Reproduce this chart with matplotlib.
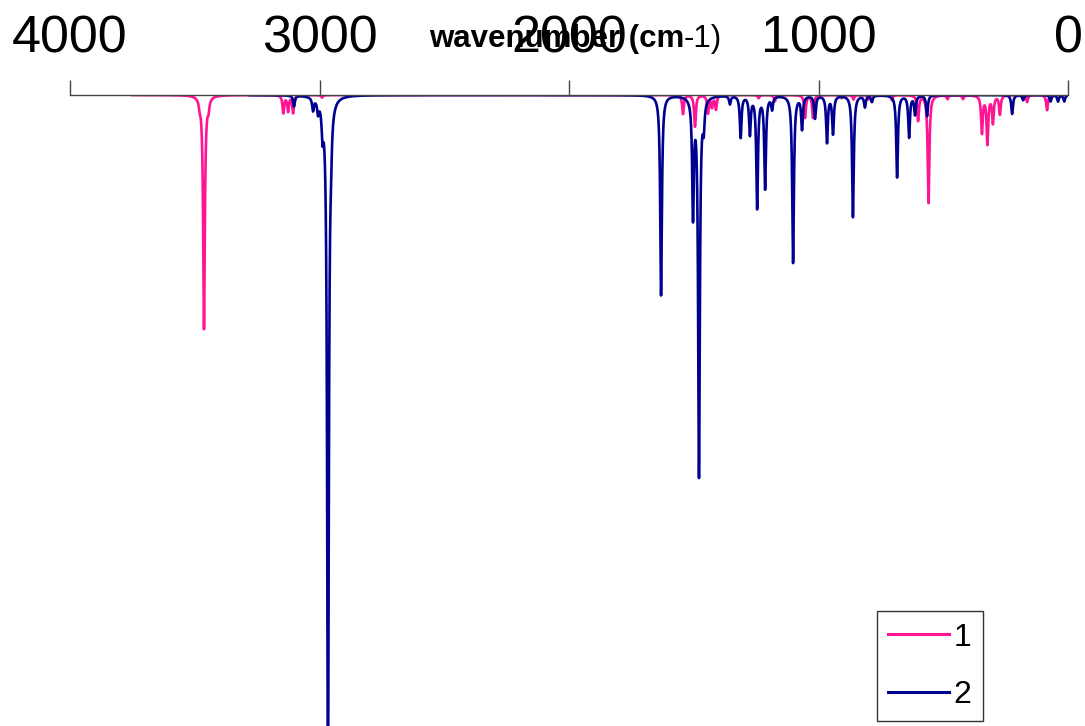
import numpy as np
import matplotlib.pyplot as plt

plt.rcParams['font.family'] = ['Liberation Sans', 'DejaVu Sans']

# peak lists: wavenumber (cm-1) and depth (fraction of plot height)
peaks_1_wn = [3480, 3463, 3445, 3145, 3126, 3106, 2990, 1543, 1495, 1443, 1427,
              1411, 1240, 1175, 1054, 1022, 907, 860, 800, 706, 601, 559, 483,
              421, 345, 323, 301, 273, 164, 84]
peaks_1_int = [0.01, 0.37, 0.015, 0.028, 0.025, 0.028, 0.004, 0.03, 0.05, 0.028,
               0.018, 0.022, 0.005, 0.01, 0.036, 0.036, 0.005, 0.007, 0.007,
               0.008, 0.04, 0.171, 0.006, 0.006, 0.059, 0.076, 0.043, 0.03,
               0.011, 0.024]

peaks_2_wn = [3102, 3026, 3006, 2988, 2966, 2954, 1631, 1503, 1479, 1460, 1355,
              1312, 1275, 1246, 1214, 1186, 1102, 1066, 1014, 966, 942, 862,
              814, 786, 685, 637, 613, 565, 224, 180, 70, 40, 15]
peaks_2_int = [0.017, 0.02, 0.02, 0.045, 1.08, 0.04, 0.317, 0.185, 0.60, 0.04,
               0.013, 0.066, 0.06, 0.177, 0.146, 0.02, 0.265, 0.052, 0.036,
               0.074, 0.06, 0.193, 0.018, 0.01, 0.13, 0.066, 0.03, 0.033, 0.03,
               0.008, 0.01, 0.01, 0.01]

start_1, start_2 = 3750, 3280
hwhm = 4.0


def broaden(wn_list, int_list, start):
    x = np.linspace(start, 0, int(start * 4) + 1)
    y = np.zeros_like(x)
    for w, a in zip(wn_list, int_list):
        y -= a * hwhm**2 / ((x - w)**2 + hwhm**2)
    return x, y


fig = plt.figure(figsize=(10.85, 7.26), dpi=100)
ax = fig.add_axes([70 / 1085, 0, 998 / 1085, 1 - 95 / 726])

x1, y1 = broaden(peaks_1_wn, peaks_1_int, start_1)
x2, y2 = broaden(peaks_2_wn, peaks_2_int, start_2)
ax.plot(x1, y1, color='#ff1493', lw=1.9, label='1')
ax.plot(x2, y2, color='#000090', lw=1.9, label='2')

ax.set_xlim(4000, 0)
ax.set_ylim(-1.0, 0.0)
for s in ['left', 'right', 'bottom']:
    ax.spines[s].set_visible(False)
ax.spines['top'].set_color('#444444')
ax.spines['top'].set_linewidth(1.0)
ax.xaxis.tick_top()
ax.set_xticks([4000, 3000, 2000, 1000, 0])
ax.tick_params(axis='x', direction='out', length=11, width=1.0,
               colors='#444444', labelcolor='black', labelsize=37.5, pad=12)
ax.set_yticks([])

# axis title sits over the tick labels, as in the original
fig.text(684 / 1085, 1 - 47 / 726, 'wavenumber (cm', ha='right', va='baseline',
         fontsize=22.5, fontweight='bold')
fig.text(684 / 1085, 1 - 47 / 726, '-1)', ha='left', va='baseline',
         fontsize=22.5)

leg = ax.legend(loc='lower left', bbox_to_anchor=((877 - 70) / 998, 5 / 631),
                fontsize=23, handlelength=1.9, handletextpad=0.15,
                labelspacing=0.85, borderpad=0.35, borderaxespad=0,
                fancybox=False, framealpha=1)
leg.get_frame().set_edgecolor('#333333')
leg.get_frame().set_linewidth(1.0)
for line in leg.get_lines():
    line.set_linewidth(2.2)

fig.savefig('out.png', dpi=100)
